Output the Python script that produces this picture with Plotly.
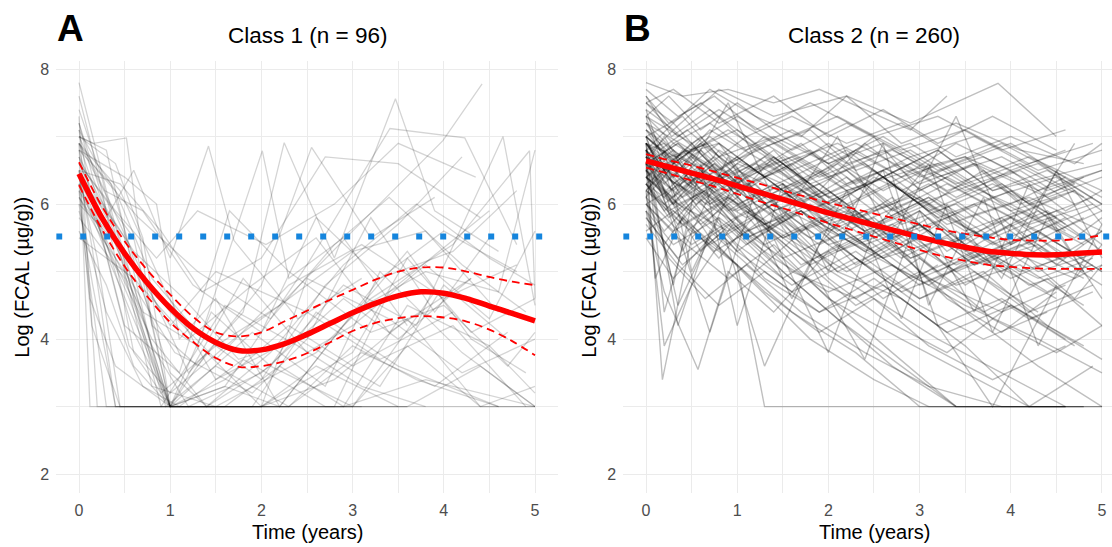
import plotly.graph_objects as go

# ---------------- data ----------------
# Panel A (Class 1, n = 96): individual trajectories (time in years, log FCAL)
A_times = [
    [0,0.3,0.9,2.0,3.1],
    [0,0.15,0.55,1.0,1.6,2.3,3.0,4.1],
    [0,0.4,0.7,1.0,2.0,3.0,3.6,4.3,5.0],
    [0,0.12,1.0,1.9,2.6,3.5,4.6],
    [0,0.5,0.85,1.1,1.5,2.2,3.3,4.0,4.8],
    [0,0.16,0.52,0.8,1.3,2.0,2.55,3.2,3.9],
    [0,0.3,0.6,1.0,1.42,1.7,2.4,3.1],
    [0,0.2,0.45,1.0,2.0,2.9,3.8,5.0],
    [0,0.25,0.7,1.3,2.01,2.3,2.9,3.6],
    [0,0.35,0.75,1.2,1.8,2.25,2.8,3.47,3.9,4.6],
    [0,0.1,0.6,1.0,1.6,2.5,3.41,4.23,4.8],
    [0,0.2,0.5,0.9,1.5,2.2,3.0,3.99,4.42],
    [0,0.3,0.8,1.4,2.1,2.9,3.7,4.65,5.0],
    [0,0.15,0.4,1.0,1.5,2.6,3.2,4.1,4.94,5.0],
    [0,0.5,1.0,2.0,2.6,3.5],
    [0,0.22,0.6,1.15,1.75,2.4,3.3,4.0,4.7],
    [0,0.1,0.3,1.0,1.9,2.7,3.3,4.2,5.0],
    [0,0.45,0.9,1.35,2.0,2.7,3.5,4.4],
    [0,0.25,0.8,1.5,2.2,2.9,3.6,4.3,4.9],
    [0,0.2,0.55,1.0,1.8,2.5,3.0,3.8,4.5,5.0],
    [0,0.35,1.0,1.45,2.1,3.0,3.9],
    [0,0.18,0.5,1.1,1.65,2.3,3.2,4.0,4.7,5.0],
    [0,0.6,1.0,1.6,2.8,3.4,4.5],
    [0,0.28,0.7,1.25,2.0,2.6,3.3,4.1,4.8],
    [0,0.12,0.4,1.0,1.4,2.0,2.8,3.6,4.4,5.0],
    [0,0.3,0.6,1.0,1.7,2.3,3.0,3.7,4.6],
    [0,0.2,0.65,1.3,2.1,2.8,3.4,4.2,4.9],
    [0,0.4,0.8,1.2,2.0,2.9,3.5,4.3],
    [0,0.15,0.35,0.7,1.0,1.8,2.6,3.3,4.0,4.7,5.0],
    [0,0.5,1.0,1.5,2.3,3.1,4.0,4.8],
    [0,0.25,0.55,1.05,1.9,2.5,3.2,3.9,4.5],
    [0,0.1,0.2,0.9,1.6,2.4,3.1,3.8],
    [0,0.45,0.95,1.5,2.2,3.0,3.8,4.6,5.0],
    [0,0.3,0.7,1.1,1.8,2.7,3.6,4.4,5.0],
    [0,0.2,0.4,0.8,1.3,2.0,2.7,3.5,4.2],
    [0,0.35,0.75,1.0,1.6,2.2,2.9,3.6,4.5,5.0],
    [0,0.18,0.5,1.0,1.5,2.5,3.3,4.1,4.9],
    [0,0.6,1.2,1.9,2.6,3.4,4.3],
    [0,0.28,0.6,1.0,2.0,2.5,3.4,4.2,5.0],
    [0,0.4,0.85,1.3,2.05,2.8,3.5,4.35],
    [0,0.14,0.45,0.9,1.8,2.8,3.6],
    [0,0.2,0.5,1.0,1.4,2.1,2.9,3.7,4.5,5.0],
    [0,0.3,0.6,0.95,1.5,2.3,3.1,3.9,4.7],
    [0,0.25,0.55,1.0,1.7,2.4,3.0,3.8,4.6],
    [0,0.15,0.4,1.0,1.6,2.2,3.0,3.6,4.4,5.0],
]
A_vals = [
    [7.8,6.2,3.0,3.0,3.0],
    [7.2,6.4,5.0,3.0,3.4,4.2,3.6,4.4],
    [7.0,6.6,5.5,3.0,3.0,3.8,5.2,4.1,4.6],
    [6.9,3.0,3.0,3.0,4.4,3.6,3.0],
    [6.8,6.4,6.0,4.0,4.6,3.0,4.9,5.6,5.0],
    [7.0,6.9,6.98,4.2,3.6,4.8,6.84,5.5,6.1],
    [6.6,5.8,6.5,5.2,6.86,5.46,4.3,4.9],
    [6.4,5.2,3.0,3.0,3.0,3.0,3.4,3.0],
    [6.2,5.6,4.4,3.9,6.79,4.9,5.5,4.2],
    [6.9,6.0,4.8,3.5,4.4,6.91,5.2,7.56,5.9,5.3],
    [7.1,6.3,4.1,3.0,3.3,5.1,7.12,6.98,5.4],
    [6.5,6.0,5.1,3.2,3.9,4.5,5.6,6.94,7.78],
    [6.3,5.4,4.0,3.0,3.6,4.8,4.2,7.0,4.5],
    [6.0,4.8,3.0,3.0,3.0,3.8,4.6,5.4,6.79,4.6],
    [5.8,4.9,3.0,3.0,3.6,3.0],
    [6.7,6.1,5.3,4.6,3.7,4.0,3.3,4.8,4.0],
    [7.3,5.0,3.0,3.0,4.1,3.3,5.0,3.8,3.0],
    [6.5,6.3,5.6,4.7,5.2,6.7,6.6,5.8],
    [7.4,6.4,3.3,3.0,3.0,4.2,5.3,4.0,3.5],
    [6.1,5.7,4.6,3.0,4.9,3.8,4.2,5.1,4.3,5.6],
    [6.3,5.1,3.0,4.4,3.6,3.0,4.7],
    [6.8,5.9,4.2,3.5,5.9,5.0,4.1,4.5,3.6,4.1],
    [6.6,5.5,3.0,3.0,3.0,4.7,5.9],
    [7.0,6.2,5.9,4.8,4.1,5.8,4.9,5.3,6.2],
    [6.2,4.6,3.6,3.0,3.8,3.0,3.4,4.3,3.0,3.3],
    [5.6,4.8,3.6,3.0,3.0,3.0,3.9,3.4,3.0],
    [6.9,6.5,5.8,5.0,4.3,5.4,6.1,5.1,4.4],
    [6.4,5.7,3.9,3.0,3.5,4.6,4.0,4.9],
    [7.6,6.8,5.6,4.3,3.0,3.0,3.0,3.0,3.0,3.0,3.0],
    [6.0,5.3,4.4,3.7,4.8,5.4,4.6,5.1],
    [6.7,5.5,4.9,3.8,3.2,4.0,5.8,4.4,5.5],
    [6.5,5.1,3.0,3.0,4.5,3.9,3.3,3.0],
    [6.9,6.2,4.7,3.4,3.9,4.4,5.0,4.7,6.8],
    [5.9,4.4,3.3,3.0,3.7,3.0,3.0,3.6,3.0],
    [7.1,6.6,6.2,4.9,4.1,3.4,4.8,5.7,6.7],
    [6.8,6.3,4.5,3.0,3.0,3.6,3.0,4.5,3.9,3.2],
    [6.4,5.8,5.3,4.2,5.0,4.4,3.7,4.2,3.0],
    [5.5,4.9,4.0,4.8,5.5,4.1,4.9],
    [7.2,6.0,3.8,3.0,3.0,4.9,4.3,3.5,4.0],
    [6.6,5.9,5.2,5.9,5.4,6.0,6.9,6.4],
    [6.3,4.2,3.0,3.0,3.0,3.0,3.0],
    [6.9,6.1,5.5,3.5,3.0,3.8,5.1,6.0,5.2,4.8],
    [7.0,6.8,5.0,3.0,3.6,3.0,3.8,3.3,4.1],
    [6.1,5.5,3.9,3.2,4.0,4.7,5.3,5.6,4.4],
    [6.5,5.3,3.0,3.0,3.3,3.0,3.0,3.9,3.0,3.0],
]

# Panel B (Class 2, n = 260)
B_times = [
    [0,0.4,0.9,1.4,1.9,2.4,2.9,3.3],
    [0,0.3,0.7,1.2,1.7,2.2,2.8,3.4,4.1,4.8],
    [0,0.5,1.0,1.6,2.3,3.0,3.7,4.4,5.0],
    [0,0.25,0.6,1.1,1.5,2.0,2.6,3.2,3.8,4.5,5.0],
    [0,0.35,0.8,1.3,1.8,2.4,3.0,3.5,4.0,4.6],
    [0,0.2,0.5,0.9,1.4,2.0,2.7,3.3,4.0,4.7,5.0],
    [0,0.3,0.75,1.2,1.9,2.5,3.1,3.9,4.6],
    [0,0.18,0.5,1.0,1.5,2.1,2.8,3.5,4.2,5.0],
    [0,0.4,1.0,1.3,1.8,2.5,3.3,4.0,4.8],
    [0,0.3,0.7,1.1,1.6,2.2,2.9,3.6,4.3,5.0],
    [0,0.45,0.95,1.5,2.0,2.6,3.2,3.9,4.5],
    [0,0.25,0.6,1.0,1.6,2.3,3.0,3.8,4.5,5.0],
    [0,0.3,0.8,1.3,2.0,2.5,3.0,3.6,4.4,5.0],
    [0,0.2,0.6,1.1,1.7,2.4,3.1,3.7,4.3,4.9],
    [0,0.5,1.0,1.5,2.1,2.7,3.4,4.1,4.8],
    [0,0.35,0.9,1.4,2.0,2.8,3.5,4.2,4.9],
    [0,0.28,0.7,1.2,1.8,2.3,2.9,3.5,4.0,4.6,5.0],
    [0,0.22,0.55,1.0,1.5,2.0,2.6,3.1,3.7,4.3,4.9],
    [0,0.4,0.85,1.3,1.9,2.6,3.3,4.0,4.7],
    [0,0.3,0.6,1.0,1.6,2.2,2.7,3.3,4.0,4.7,5.0],
    [0,0.15,0.45,0.9,1.4,2.0,2.7,3.4,4.2,5.0],
    [0,0.5,1.1,1.7,2.3,3.0,3.6,4.3,5.0],
    [0,0.3,0.7,1.2,1.7,2.3,2.9,3.5,4.1,4.8],
    [0,0.25,0.65,1.1,1.6,2.1,2.7,3.4,4.1,4.8],
    [0,0.4,0.8,1.4,2.0,2.6,3.2,3.9,4.6],
    [0,0.2,0.5,0.95,1.5,2.2,2.9,3.6],
    [0,0.35,0.8,1.3,1.8,2.4,3.0,3.6,4.3,5.0],
    [0,0.3,0.7,1.1,1.6,2.1,2.5,3.0,3.5,4.0,4.5,5.0],
    [0,0.45,1.0,1.5,2.1,2.8,3.4,4.0,4.6],
    [0,0.25,0.6,1.0,1.4,1.9,2.5,3.1,3.8,4.5],
    [0,0.3,0.75,1.25,1.8,2.4,3.0,3.7,4.4,5.0],
    [0,0.2,0.55,1.0,1.5,2.1,2.7,3.3,4.0,4.7],
    [0,0.4,0.9,1.5,2.2,2.9,3.6,4.3,5.0],
    [0,0.3,0.6,1.1,1.7,2.2,2.8,3.4,4.0,4.6],
    [0,0.5,1.2,1.8,2.5,3.2,3.9,4.6,5.0],
    [0,0.15,0.4,0.8,1.3,1.9,2.6,3.2,3.9,4.6],
    [0,0.3,0.8,1.4,2.0,2.6,3.2,3.8,4.5],
    [0,0.25,0.7,1.2,1.7,2.3,2.9,3.5,4.2,4.9],
    [0,0.35,0.75,1.3,1.9,2.5,3.1,3.8,4.5,5.0],
    [0,0.2,0.5,1.0,1.6,2.3,3.0,3.7,4.4],
    [0,0.4,0.9,1.4,2.0,2.7,3.3,4.0,4.8],
    [0,0.3,0.6,1.0,1.5,2.0,2.6,3.2,3.8,4.4,5.0],
    [0,0.25,0.65,1.1,1.7,2.4,3.1,3.9,4.6],
    [0,0.35,0.8,1.2,1.8,2.4,3.0,3.6,4.2,4.9],
    [0,0.2,0.6,1.0,1.5,2.1,2.8,3.4,4.1,4.8],
    [0,0.5,1.0,1.6,2.2,2.9,3.6,4.3,5.0],
    [0,0.3,0.7,1.2,1.7,2.3,3.0,3.7,4.5],
    [0,0.25,0.55,1.0,1.4,1.9,2.5,3.1,3.7,4.3,4.9],
    [0,0.4,0.8,1.3,1.9,2.6,3.2,3.8,4.5,5.0],
    [0,0.3,0.7,1.1,1.7,2.4,3.0,3.6,4.3],
    [0,0.2,0.45,0.9,1.5,2.2,2.9,3.5,4.2,4.9],
    [0,0.35,0.9,1.4,2.0,2.7,3.4,4.1,4.8],
    [0,0.25,0.6,1.1,1.6,2.2,2.8,3.4,4.0,4.7,5.0],
    [0,0.3,0.8,1.3,1.9,2.6,3.3,4.0,4.7],
    [0,0.45,1.0,1.6,2.2,2.8,3.5,4.2,5.0],
    [0,0.2,0.5,0.9,1.4,2.0,2.6,3.3,4.0,4.6],
    [0,0.35,0.8,1.3,1.9,2.5,3.2,3.9,4.6],
    [0,0.3,0.65,1.1,1.6,2.1,2.7,3.3,4.0,4.7,5.0],
    [0,0.4,0.9,1.5,2.1,2.8,3.5,4.3,5.0],
    [0,0.25,0.6,1.0,1.5,2.1,2.7,3.4],
    [0,0.3,0.7,1.2,1.8,2.3,2.9,3.5,4.1,4.7],
    [0,0.5,1.1,1.7,2.4,3.1,3.8,4.5],
    [0,0.2,0.55,1.0,1.6,2.3,3.0,3.7,4.4,5.0],
    [0,0.35,0.75,1.2,1.8,2.5,3.2,3.9,4.6],
    [0,0.3,0.8,1.4,2.0,2.7,3.5,4.3,5.0],
    [0,0.4,1.0,1.6,2.3,3.0,3.8,4.6],
    [0,0.3,0.6,1.0,1.5,2.0,2.6,3.1,3.7,4.3,5.0],
    [0,0.25,0.7,1.2,1.8,2.4,3.0,3.6,4.2,4.8],
    [0,0.4,0.9,1.4,2.0,2.5,3.1,3.8,4.4,5.0],
    [0,0.2,0.5,1.0,1.6,2.2,2.8,3.3,3.9,4.5,5.0],
    [0,0.35,0.8,1.3,1.9,2.6,3.2,3.8,4.5],
    [0,0.3,0.9,1.5,2.1,2.7,3.4,4.0,4.7],
    [0,0.2,0.57,0.9,1.4,2.0,2.6,3.2],
    [0,0.3,0.8,1.4,2.2,2.9,3.86,4.5],
    [0,0.3,0.6,1.0,1.4,1.9,2.4,3.0,3.6,4.2,4.8],
    [0,0.2,0.5,0.8,1.2,1.7,2.2,2.8,3.4,4.0,4.6,5.0],
    [0,0.25,0.7,1.1,1.6,2.2,2.9,3.5,4.1,4.7],
    [0,0.3,0.8,1.3,1.8,2.3,2.9,3.6,4.3,5.0],
    [0,0.4,0.9,1.5,2.0,2.6,3.2,3.8,4.4,5.0],
    [0,0.2,0.6,1.0,1.5,2.0,2.5,3.1,3.7,4.3,4.9],
    [0,0.35,0.7,1.2,1.7,2.3,2.8,3.4,4.0,4.6],
    [0,0.3,0.75,1.2,1.8,2.4,3.0,3.7,4.4,5.0],
    [0,0.25,0.6,1.0,1.5,2.1,2.7,3.3,3.9,4.5],
    [0,0.4,0.9,1.4,2.0,2.6,3.3,4.0,4.8],
    [0,0.3,0.7,1.3,1.9,2.5,3.1,3.8,4.6],
    [0,0.2,0.6,1.1,1.7,2.3,3.0,3.7,4.4,5.0],
    [0,0.35,0.8,1.4,2.1,2.8,3.5,4.2,4.9],
    [0,0.3,0.6,1.0,1.6,2.1,2.7,3.3,3.9,4.5,5.0],
    [0,0.25,0.65,1.2,1.8,2.4,3.0,3.6,4.2,4.8],
    [0,0.45,1.0,1.5,2.1,2.7,3.4,4.1,4.8],
    [0,0.3,0.7,1.1,1.6,2.2,2.8,3.4,4.0,4.7],
    [0,0.2,0.5,0.9,1.4,1.9,2.5,3.1,3.7,4.3,5.0],
    [0,0.35,0.9,1.5,2.1,2.8,3.5,4.2,4.9],
    [0,0.3,0.75,1.3,1.9,2.5,3.1,3.8,4.5],
    [0,0.25,0.6,1.0,1.5,2.0,2.6,3.2,3.9,4.6],
    [0,0.4,0.8,1.3,1.8,2.4,3.0,3.6,4.3,5.0],
    [0,0.2,0.55,1.0,1.6,2.3,3.0,3.6,4.3],
    [0,0.3,0.8,1.3,1.9,2.6,3.3,4.1,4.8],
    [0,0.35,0.7,1.2,1.7,2.3,2.9,3.5,4.1,4.7,5.0],
    [0,0.3,0.7,1.2,1.8,2.5,3.1,3.8,4.6],
    [0,0.1,0.4,0.8,1.3,1.9,2.5,3.2,3.9],
    [0,0.15,0.35,0.7,1.2,1.8,2.4,3.0],
]
B_vals = [
    [7.8,7.6,7.7,7.5,7.7,7.4,7.1,7.6],
    [7.5,7.2,7.7,7.3,7.0,7.6,6.9,7.2,6.8,6.6],
    [7.2,6.8,7.1,6.5,6.9,6.4,6.7,6.2,6.5],
    [6.9,6.5,6.8,6.2,6.6,6.0,6.4,5.8,6.1,5.6,5.9],
    [6.6,6.9,6.3,6.7,6.1,5.6,6.0,5.4,5.8,5.2],
    [7.0,6.3,6.7,6.4,5.9,6.2,5.5,5.8,5.3,4.9,5.4],
    [6.4,6.0,6.5,5.8,5.2,5.6,4.9,4.4,4.8],
    [6.8,3.4,5.5,6.2,5.7,5.0,4.6,3.9,3.0,3.0],
    [6.2,5.7,5.1,3.0,3.0,3.0,3.0,3.0,3.0],
    [7.3,6.9,7.2,6.8,7.1,6.6,6.9,6.3,6.6,6.0],
    [6.7,6.3,5.9,6.3,5.6,5.2,5.7,5.0,5.5],
    [6.5,6.1,5.3,5.8,5.0,4.6,5.2,4.3,3.8,4.2],
    [7.1,6.7,6.9,6.0,6.5,7.0,6.2,6.6,6.1,6.4],
    [6.3,5.9,6.4,5.6,5.9,5.3,4.8,5.3,4.9,5.2],
    [6.9,6.6,6.2,6.6,6.0,5.5,4.8,5.1,4.5],
    [6.0,5.5,4.9,5.4,4.6,4.0,3.5,3.0,3.6],
    [7.6,7.0,7.4,6.8,7.1,6.5,6.8,6.3,6.0,6.4,6.1],
    [6.6,6.2,6.6,6.0,6.3,5.7,6.0,5.6,5.1,5.5,5.0],
    [5.8,5.1,5.6,4.9,4.4,4.8,4.1,4.5,3.9],
    [6.8,6.4,6.9,6.5,6.1,6.5,5.9,6.3,5.8,6.2,5.7],
    [7.4,6.8,7.1,6.6,6.9,6.4,6.8,6.3,6.7,6.2],
    [6.1,5.4,5.9,5.2,4.5,5.0,4.3,3.6,3.0],
    [6.5,6.8,6.3,6.6,6.2,5.8,6.1,5.6,5.9,5.4],
    [6.7,5.9,6.2,5.5,5.8,5.3,5.6,5.0,5.4,4.9],
    [7.0,7.3,6.7,7.0,6.6,6.9,6.4,6.7,6.2],
    [6.2,3.9,4.8,5.7,5.2,5.6,4.9,5.3],
    [6.4,6.0,6.3,5.7,6.0,5.4,5.7,5.1,5.4,4.8],
    [6.9,6.5,6.0,6.4,5.8,6.1,5.5,5.9,5.3,5.7,5.2,5.6],
    [6.6,6.2,5.7,5.0,4.3,3.6,3.0,3.0,3.0],
    [7.1,6.6,7.0,6.4,6.8,6.1,6.5,5.9,6.3,5.8],
    [5.6,5.9,5.3,5.7,5.1,5.5,4.9,5.3,4.7,5.1],
    [6.8,6.9,6.3,6.7,6.2,6.6,6.0,6.4,5.9,6.2],
    [6.3,5.7,6.1,5.5,5.9,5.2,5.6,5.0,5.3],
    [7.2,6.8,6.2,6.6,6.0,6.4,5.7,6.0,5.4,5.8],
    [6.0,6.4,5.8,5.2,4.6,4.0,3.5,3.0,3.0],
    [6.7,6.3,6.8,6.2,6.6,6.1,6.5,5.9,6.3,5.7],
    [7.5,7.7,7.2,7.6,7.0,7.4,6.9,7.3,6.8],
    [6.4,6.7,6.0,6.3,5.6,5.9,5.2,5.5,4.8,5.1],
    [6.9,6.2,6.6,6.0,6.3,5.7,6.1,5.5,5.9,5.4],
    [6.1,5.4,6.0,5.3,4.7,5.2,4.5,4.0,4.4],
    [6.5,6.1,6.5,6.0,5.6,6.0,5.4,5.8,5.2],
    [7.0,6.6,6.9,6.3,6.7,6.0,6.4,6.8,6.2,6.5,6.0],
    [5.9,5.2,4.6,5.1,4.4,3.8,3.3,3.0,3.0],
    [6.6,6.9,6.4,6.8,6.3,6.6,6.0,6.3,5.7,6.0],
    [6.8,6.2,5.7,6.1,5.5,5.9,5.2,5.6,5.0,5.3],
    [7.3,6.9,7.3,6.8,7.2,6.7,7.0,6.5,6.8],
    [6.3,6.0,5.4,5.8,5.1,5.5,4.8,5.2,4.6],
    [6.7,6.4,6.0,6.4,5.9,6.2,5.7,6.1,5.5,5.9,5.4],
    [7.0,6.5,6.9,6.4,6.8,6.2,6.6,6.1,6.4,5.9],
    [6.2,6.6,6.1,5.5,5.9,5.3,5.7,5.1,5.5],
    [6.9,4.4,5.6,6.1,5.6,5.0,5.5,4.9,4.3,4.7],
    [6.5,6.0,5.6,6.0,5.4,5.7,5.1,5.5,5.0],
    [7.6,7.2,7.5,7.0,7.3,6.9,7.2,6.7,7.0,6.6,6.9],
    [6.0,5.6,6.0,5.4,5.8,5.2,5.5,4.9,5.3],
    [6.4,6.8,6.2,6.6,6.0,6.4,5.8,6.1,5.6],
    [6.8,6.5,6.9,6.3,6.7,6.1,6.4,5.8,6.2,5.6],
    [5.7,5.1,4.5,5.0,4.4,4.9,4.2,4.6,4.0],
    [6.6,6.2,6.6,6.1,6.4,5.9,6.3,5.7,6.0,5.5,5.8],
    [7.1,6.7,7.1,6.6,6.9,6.4,6.7,6.2,6.5],
    [6.3,5.8,6.2,5.6,5.0,4.3,3.6,3.0],
    [6.9,6.6,7.0,6.5,6.8,6.3,6.7,6.2,6.5,6.0],
    [6.7,6.3,5.8,6.2,5.6,6.0,5.4,5.8],
    [6.4,6.0,6.4,5.9,6.3,5.7,6.1,5.5,5.9,5.3],
    [7.7,7.3,7.6,7.1,7.5,7.0,7.3,6.8,7.1],
    [5.9,5.4,5.8,5.2,4.7,5.1,4.5,4.0,3.5],
    [6.2,5.8,5.1,4.4,3.8,3.0,3.0,3.0],
    [6.5,4.8,6.6,4.2,6.3,5.0,6.9,4.5,6.1,3.9,5.7],
    [7.0,6.0,4.1,6.2,5.1,3.7,5.9,4.4,6.3,5.0],
    [6.8,5.3,6.7,5.5,3.8,5.6,6.6,4.1,5.8,4.6],
    [6.1,6.8,5.0,6.4,4.6,6.2,4.3,6.0,4.9,6.5,5.2],
    [6.6,4.5,5.8,3.6,5.4,6.5,4.2,3.0,4.8],
    [7.3,6.1,7.5,5.8,7.0,5.5,7.3,5.4,6.9],
    [5.9,4.7,3.55,5.0,4.4,5.3,4.6,5.1],
    [7.4,7.1,7.7,7.3,7.6,7.2,7.79,7.0],
    [6.9,6.4,6.8,6.1,6.7,6.2,6.9,6.3,6.6,6.0,6.4],
    [6.6,7.0,6.3,6.8,6.5,6.9,6.3,6.6,6.1,6.5,5.9,6.2],
    [7.2,6.7,6.9,6.4,6.7,6.2,6.5,6.7,6.0,6.3],
    [6.5,6.9,6.5,7.0,6.6,6.2,6.6,6.1,5.6,6.0],
    [6.3,6.7,6.2,6.5,6.9,6.4,6.8,6.2,6.4,6.6],
    [6.8,6.4,6.1,6.6,6.3,5.9,6.4,6.0,6.5,5.8,6.1],
    [7.0,6.6,7.1,6.7,6.3,6.8,6.4,6.9,6.5,6.8],
    [6.4,6.1,6.6,6.0,5.5,5.9,5.0,4.4,4.9,4.2],
    [6.1,6.5,5.9,5.3,5.8,5.0,5.4,4.6,4.1,4.7],
    [6.7,6.0,5.4,5.9,4.9,4.3,3.8,4.5,3.9],
    [5.5,4.9,5.5,4.7,4.1,4.6,3.9,3.4,3.9],
    [6.9,6.5,6.0,5.4,5.9,5.2,4.6,5.0,4.2,3.7],
    [7.5,7.0,7.4,6.9,7.3,6.8,7.1,6.6,6.9],
    [6.6,6.0,6.5,5.8,6.2,5.6,6.1,5.3,5.8,5.1,5.6],
    [6.2,6.6,6.0,6.5,5.9,6.3,5.6,6.0,5.4,5.8],
    [7.0,6.5,6.0,5.2,4.5,3.8,3.0,3.0,3.0],
    [6.8,7.2,6.6,7.0,6.4,6.8,6.2,6.6,6.9,6.3],
    [6.5,6.1,6.5,5.9,6.3,5.8,5.3,5.8,5.2,5.6,5.0],
    [5.8,5.2,5.7,4.9,5.4,4.7,5.1,4.4,4.8],
    [6.9,6.3,6.7,6.1,6.5,5.9,6.3,5.7,6.1],
    [7.3,7.6,7.1,7.5,7.0,6.6,7.0,6.5,6.9,6.4],
    [6.4,5.9,6.4,5.7,6.1,5.5,5.9,5.2,5.6,5.0],
    [6.0,5.6,6.1,5.4,4.8,5.3,4.6,5.0,4.4],
    [6.7,7.1,6.5,6.9,6.4,6.8,6.2,6.6,6.1],
    [6.3,5.7,6.2,5.5,5.9,5.1,5.6,4.8,5.3,4.6,5.1],
    [6.8,6.3,5.5,4.8,4.0,3.4,3.0,3.0,3.0],
    [6.6,4.9,5.8,5.2,6.0,5.4,5.8,5.0,5.5],
    [6.9,5.7,4.2,5.6,5.0,5.7,5.1,5.5],
]

# Estimated mean trajectories with 95% bands
grid_t = [0,0.25,0.5,0.75,1.0,1.25,1.5,1.75,2.0,2.25,2.5,2.75,3.0,3.25,3.5,3.75,4.0,4.25,4.5,4.75,5.0]
A_mean  = [6.45,5.80,5.27,4.83,4.46,4.16,3.95,3.83,3.84,3.93,4.07,4.23,4.39,4.53,4.64,4.70,4.68,4.60,4.49,4.38,4.27]
A_upper = [6.62,5.97,5.45,5.02,4.66,4.33,4.10,4.04,4.10,4.26,4.42,4.58,4.73,4.88,5.00,5.06,5.06,5.00,4.92,4.85,4.80]
A_lower = [6.28,5.63,5.08,4.63,4.25,3.96,3.72,3.59,3.60,3.67,3.79,3.95,4.12,4.24,4.31,4.34,4.32,4.26,4.14,3.97,3.76]
B_mean  = [6.64,6.55,6.46,6.37,6.27,6.17,6.07,5.97,5.87,5.78,5.69,5.60,5.51,5.43,5.36,5.30,5.27,5.25,5.25,5.27,5.29]
B_upper = [6.74,6.65,6.57,6.48,6.39,6.30,6.20,6.11,6.02,5.94,5.86,5.78,5.70,5.62,5.56,5.51,5.47,5.46,5.46,5.49,5.54]
B_lower = [6.54,6.45,6.35,6.26,6.15,6.04,5.94,5.83,5.72,5.62,5.52,5.42,5.32,5.23,5.16,5.10,5.07,5.05,5.04,5.04,5.04]

threshold = 5.52  # log(250)
panel_titles = ["Class 1 (n = 96)", "Class 2 (n = 260)"]
panel_tags = ["A", "B"]
x_ticks = [0, 1, 2, 3, 4, 5]
y_ticks = [2, 4, 6, 8]

# ---------------- figure ----------------
W, H = 1112, 547
FONT = "Liberation Sans, Arial, sans-serif"
fig = go.Figure()

def px_x(p):
    return p / W

def px_y(p):
    return 1 - p / H

panels = [
    dict(times=A_times, vals=A_vals, mean=A_mean, up=A_upper, lo=A_lower,
         xa="x", ya="y", alpha=0.17, lw=1.3, xr=[-0.25, 5.25]),
    dict(times=B_times, vals=B_vals, mean=B_mean, up=B_upper, lo=B_lower,
         xa="x2", ya="y2", alpha=0.25, lw=1.4, xr=[-0.25, 5.11]),
]

for p in panels:
    for t, v in zip(p["times"], p["vals"]):
        fig.add_trace(go.Scatter(x=t, y=v, mode="lines", xaxis=p["xa"], yaxis=p["ya"],
                                 line=dict(color=f"rgba(0,0,0,{p['alpha']})", width=p["lw"]),
                                 hoverinfo="skip", showlegend=False))
    for band in (p["up"], p["lo"]):
        fig.add_trace(go.Scatter(x=grid_t, y=band, mode="lines", xaxis=p["xa"], yaxis=p["ya"],
                                 line=dict(color="#FF0000", width=1.8, dash="8px,5px", shape="spline"),
                                 showlegend=False))
    fig.add_trace(go.Scatter(x=grid_t, y=p["mean"], mode="lines", xaxis=p["xa"], yaxis=p["ya"],
                             line=dict(color="#FF0000", width=5.5, shape="spline"),
                             showlegend=False))
    fig.add_trace(go.Scatter(x=[-0.25, 5.25], y=[threshold, threshold], mode="lines",
                             xaxis=p["xa"], yaxis=p["ya"],
                             line=dict(color="#1585DD", width=6, dash="6px,18px"),
                             showlegend=False))

xdoms = [[px_x(56.2), px_x(557.8)], [px_x(623.2), 1.0]]
ydom = [px_y(493), px_y(61)]

axis_common = dict(showline=False, zeroline=False, ticks="", showgrid=True,
                   gridcolor="#EBEBEB", gridwidth=1.3,
                   tickfont=dict(family=FONT, size=16, color="#4D4D4D"))

for i, p in enumerate(panels):
    sfx = "" if i == 0 else str(i + 1)
    fig.update_layout(**{
        "xaxis" + sfx: dict(domain=xdoms[i], range=p["xr"], tickvals=x_ticks,
                            anchor="y" + sfx, ticklabelstandoff=6,
                            ticklabeloverflow="allow",
                            minor=dict(dtick=0.5, tick0=0, showgrid=True,
                                       gridcolor="#EBEBEB", gridwidth=0.7),
                            **axis_common),
        "yaxis" + sfx: dict(domain=ydom, range=[1.72, 8.12], tickvals=y_ticks,
                            anchor="x" + sfx, ticklabelstandoff=6,
                            minor=dict(dtick=1, tick0=0, showgrid=True,
                                       gridcolor="#EBEBEB", gridwidth=0.7),
                            **axis_common),
    })

panel_centers = [px_x(307), px_x(874)]
tag_x = [px_x(70), px_x(637.5)]
ytitle_x = [px_x(21.7), px_x(588.7)]

annotations = []
for i in range(2):
    annotations.append(dict(text=panel_titles[i], x=panel_centers[i], y=px_y(36), xref="paper", yref="paper",
                            xanchor="center", yanchor="middle", showarrow=False,
                            font=dict(family=FONT, size=22.5, color="#000000")))
    annotations.append(dict(text="<b>" + panel_tags[i] + "</b>",
                            x=tag_x[i], y=px_y(29), xref="paper", yref="paper",
                            xanchor="center", yanchor="middle", showarrow=False,
                            font=dict(family=FONT, size=37, color="#000000")))
    annotations.append(dict(text="Time (years)", x=panel_centers[i], y=px_y(532), xref="paper", yref="paper",
                            xanchor="center", yanchor="middle", showarrow=False,
                            font=dict(family=FONT, size=20, color="#000000")))
    annotations.append(dict(text="Log (FCAL (µg/g))", x=ytitle_x[i],
                            y=(ydom[0] + ydom[1]) / 2, xref="paper", yref="paper",
                            xanchor="center", yanchor="middle", textangle=-90, showarrow=False,
                            font=dict(family=FONT, size=20, color="#000000")))

fig.update_layout(width=W, height=H, margin=dict(l=0, r=0, t=0, b=0),
                  paper_bgcolor="white", plot_bgcolor="white",
                  annotations=annotations, showlegend=False)

# remove the default 8px page margin so the figure fills the window exactly
fig.write_html("out.html", config={"displayModeBar": False},
               post_script="document.body.style.margin='0px';")
